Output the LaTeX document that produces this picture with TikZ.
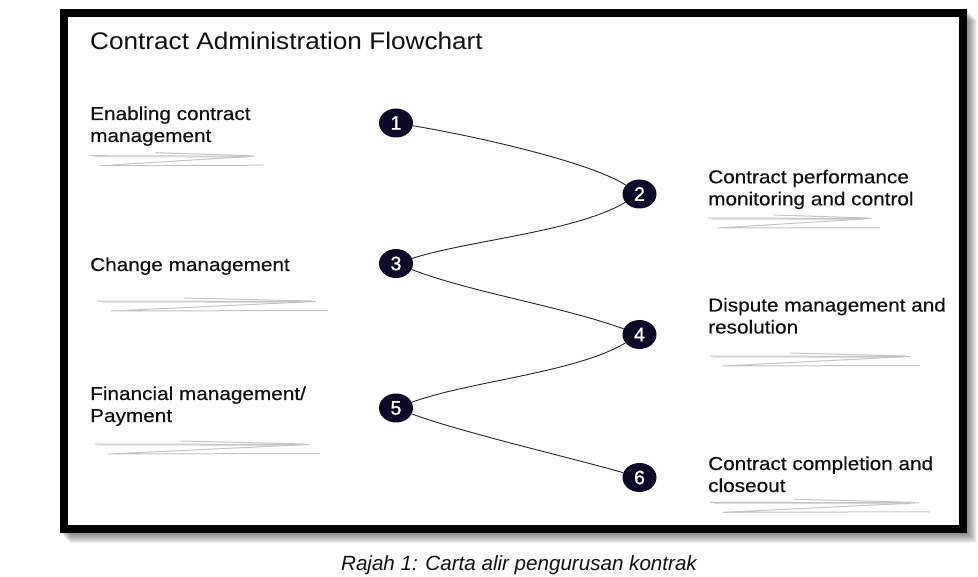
\documentclass[tikz,border=0pt]{standalone}
\usepackage{fontspec}
\setmainfont{Liberation Sans}
\newfontfamily\titlefont[FakeStretch=1.09]{Liberation Sans}
\newfontfamily\bodyfont[FakeStretch=1.11,FakeBold=0.4]{Liberation Sans}
\newfontfamily\digitfont[FakeBold=1.2]{Liberation Sans}
\usetikzlibrary{shapes.geometric}
\definecolor{navy}{HTML}{0C0A26}
\definecolor{scribgrey}{HTML}{C4C4C4}
\definecolor{inkc}{HTML}{111111}
\newcommand\drawscribble[3]{%
  \draw[scribline] (#1,#2+3) -- ({#1+0.95*#3},#2+3.5) -- ({#1+0.06*#3},#2+13) -- ({#1+#3},#2+12.5);
  \draw[scribline] ({#1+0.38*#3},#2) -- ({#1+0.93*#3},#2+3);
  \draw[scribline,opacity=0.6] ({#1+0.02*#3},#2+4) -- ({#1+0.9*#3},#2+4.5);
}
\begin{document}
\begin{tikzpicture}[x=1pt,y=-1pt,
  stepcircle/.style={ellipse, fill=navy, minimum width=34pt, minimum height=29pt,
    inner sep=0pt, text=white, font=\digitfont\fontsize{19.5}{19.5}\selectfont},
  itemtext/.style={anchor=base west, inner sep=0pt, text=inkc,
    font=\bodyfont\fontsize{18.7}{22}\selectfont},
  connector/.style={draw=black!85, line width=0.9pt},
  scribline/.style={draw=scribgrey, line width=1pt, line join=round}]
\useasboundingbox (0,0) rectangle (978,577);
\fill[white] (0,0) rectangle (978,577);
% shadow
\foreach \k in {1,...,10} \fill[black,opacity=0.055] (60+\k,10+\k) rectangle (967+\k,533+\k);
% frame
\draw[line width=8pt, fill=white] (64,13.5) rectangle (963,528.5);
% title
\node[anchor=base west, inner sep=0pt, text=inkc, font=\titlefont\fontsize{24}{28}\selectfont]
  (title) at (90,50) {Contract Administration Flowchart};
% circles
\node[stepcircle] (n1) at (396,123) {1};
\node[stepcircle] (n2) at (639.5,194) {2};
\node[stepcircle] (n3) at (396,263.5) {3};
\node[stepcircle] (n4) at (639.5,334.5) {4};
\node[stepcircle] (n5) at (396,408) {5};
\node[stepcircle] (n6) at (639.5,477.5) {6};
% connectors
\draw[connector] (n1) .. controls (475,136) and (590,162) .. (n2);
\draw[connector] (n2) .. controls (575,232) and (470,240) .. (n3);
\draw[connector] (n3) .. controls (470,292) and (560,306) .. (n4);
\draw[connector] (n4) .. controls (575,373) and (470,381) .. (n5);
\draw[connector] (n5) .. controls (460,432) and (580,460) .. (n6);
% left labels
\node[itemtext] (l1a) at (90,120) {Enabling contract};
\node[itemtext] (l1b) at (90,142) {management};
\node[itemtext] (l2a) at (90,271) {Change management};
\node[itemtext] (l3a) at (90,400) {Financial management/};
\node[itemtext] (l3b) at (90,422) {Payment};
% right labels
\node[itemtext] (r1a) at (708,183.3) {Contract performance};
\node[itemtext] (r1b) at (708,205.3) {monitoring and control};
\node[itemtext] (r2a) at (708,311.5) {Dispute management and};
\node[itemtext] (r2b) at (708,333.5) {resolution};
\node[itemtext] (r3a) at (708,470) {Contract completion and};
\node[itemtext] (r3b) at (708,492) {closeout};
% scribbles
\drawscribble{90}{152.7}{173}
\drawscribble{97}{298}{230}
\drawscribble{95}{441}{225}
\drawscribble{708}{215}{172}
\drawscribble{710}{353}{210}
\drawscribble{710}{499.3}{220}
% caption
\node[anchor=base, inner sep=0pt, text=inkc, font=\fontsize{20.6}{24}\selectfont\itshape]
  (caption) at (519,570) {Rajah 1: Carta alir pengurusan kontrak};
\end{tikzpicture}
\end{document}
